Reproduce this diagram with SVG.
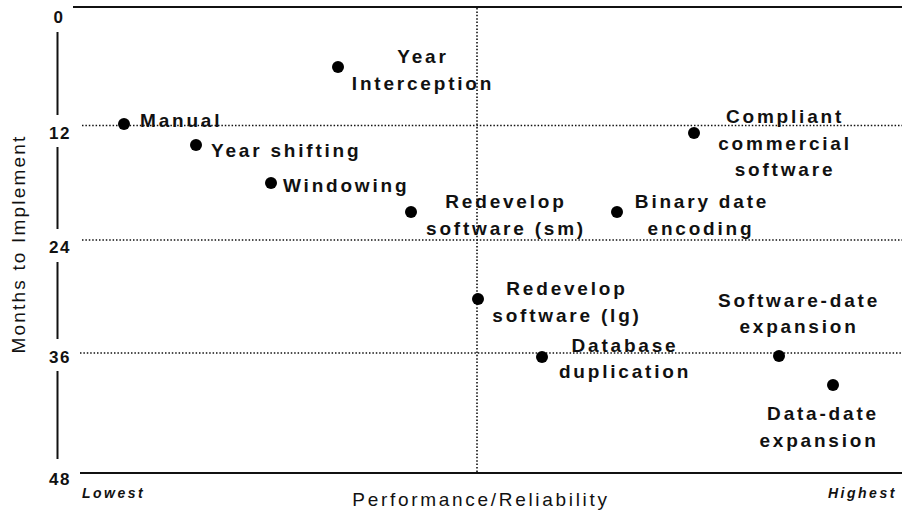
<svg xmlns="http://www.w3.org/2000/svg" width="902" height="512" viewBox="0 0 902 512">
<style>
.lbl{font-family:"Liberation Sans",Arial,sans-serif;font-size:19px;font-weight:bold;letter-spacing:2.8px;fill:#111}
.tick{font-family:"Liberation Sans",Arial,sans-serif;font-size:17px;font-weight:bold;letter-spacing:1.5px;fill:#111;text-anchor:middle}
.axt{font-family:"Liberation Sans",Arial,sans-serif;font-size:19px;letter-spacing:2.2px;fill:#111;text-anchor:middle}
.end{font-family:"Liberation Sans",Arial,sans-serif;font-size:14px;font-weight:bold;font-style:italic;letter-spacing:2.5px;fill:#111}
.mid{text-anchor:middle}
.dot{fill:#000}
.grid{stroke:#111;stroke-width:1.6;stroke-dasharray:1.5 1.9;fill:none}
.solid{stroke:#111;stroke-width:2;fill:none}
</style>
<rect width="902" height="512" fill="#fff"/>
<g id="axes">
<line class="solid" x1="73" y1="7" x2="902" y2="7"/>
<line class="solid" x1="80" y1="473" x2="902" y2="473"/>
<line class="solid" x1="57.5" y1="32" x2="57.5" y2="115" stroke-width="1.6"/>
<line class="solid" x1="57.5" y1="147" x2="57.5" y2="229" stroke-width="1.6"/>
<line class="solid" x1="57.5" y1="262" x2="57.5" y2="339" stroke-width="1.6"/>
<line class="solid" x1="57.5" y1="371" x2="57.5" y2="459" stroke-width="1.6"/>
<text class="tick" x="59" y="23">0</text>
<text class="tick" x="60" y="139">12</text>
<text class="tick" x="60" y="253">24</text>
<text class="tick" x="60" y="363">36</text>
<text class="tick" x="60" y="485">48</text>
<text class="axt" transform="translate(25,244) rotate(-90)">Months to Implement</text>
<text class="axt" x="481" y="506" style="letter-spacing:2.7px">Performance/Reliability</text>
<text class="end" x="82" y="498">Lowest</text>
<text class="end" x="828" y="498">Highest</text>
</g>
<g id="connectors">
<line class="grid" x1="82" y1="125.5" x2="902" y2="125.5"/>
<line class="grid" x1="82" y1="240" x2="902" y2="240"/>
<line class="grid" x1="80" y1="353" x2="902" y2="353"/>
<line class="grid" x1="477" y1="8" x2="477" y2="472"/>
</g>
<g id="manual"><circle class="dot" cx="124" cy="124" r="6"/><text class="lbl" x="140" y="127">Manual</text></g>
<g id="year-shifting"><circle class="dot" cx="196" cy="145" r="6"/><text class="lbl" x="211" y="157">Year shifting</text></g>
<g id="windowing"><circle class="dot" cx="271" cy="183" r="6"/><text class="lbl" x="283" y="192">Windowing</text></g>
<g id="year-interception"><circle class="dot" cx="338" cy="67" r="6"/><text class="lbl mid" x="423" y="63">Year</text><text class="lbl mid" x="423" y="90">Interception</text></g>
<g id="redevelop-sm"><circle class="dot" cx="411" cy="212" r="6"/><text class="lbl mid" x="506" y="208">Redevelop</text><text class="lbl mid" x="506" y="235">software (sm)</text></g>
<g id="binary-date"><circle class="dot" cx="617" cy="212" r="6"/><text class="lbl mid" x="702" y="208">Binary date</text><text class="lbl mid" x="701" y="235">encoding</text></g>
<g id="compliant"><circle class="dot" cx="694" cy="133" r="6"/><text class="lbl mid" x="785" y="123">Compliant</text><text class="lbl mid" x="785" y="150">commercial</text><text class="lbl mid" x="785" y="176">software</text></g>
<g id="redevelop-lg"><circle class="dot" cx="478" cy="299" r="6"/><text class="lbl mid" x="567" y="295">Redevelop</text><text class="lbl mid" x="567" y="322">software (lg)</text></g>
<g id="database-dup"><circle class="dot" cx="542" cy="357" r="6"/><text class="lbl mid" x="625" y="352">Database</text><text class="lbl mid" x="625" y="378">duplication</text></g>
<g id="software-date"><circle class="dot" cx="779" cy="356" r="6"/><text class="lbl mid" x="799" y="307">Software-date</text><text class="lbl mid" x="799" y="333">expansion</text></g>
<g id="data-date"><circle class="dot" cx="833" cy="385" r="6"/><text class="lbl mid" x="823" y="420">Data-date</text><text class="lbl mid" x="819" y="447">expansion</text></g>
</svg>
